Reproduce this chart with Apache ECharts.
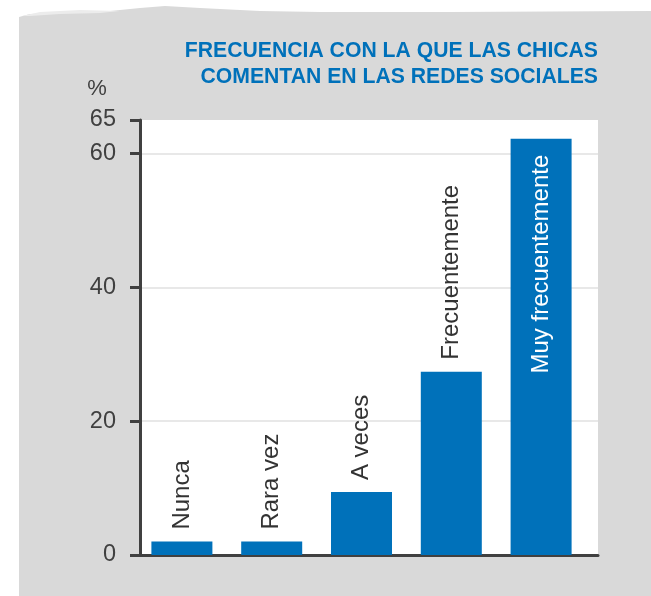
<!DOCTYPE html>
<html>
<head>
<meta charset="utf-8">
<script src="https://cdn.jsdelivr.net/npm/echarts@6/dist/echarts.min.js"></script>
<style>html,body{margin:0;padding:0;background:#fff;}#c{width:651px;height:596px;}</style>
</head>
<body>
<div id="c"></div>
<script>
const categories = ['Nunca', 'Rara vez', 'A veces', 'Frecuentemente', 'Muy frecuentemente'];
const values = [2.0, 2.0, 9.4, 27.4, 62.2];
const yMin = 0, yMax = 65, yInterval = 20;
const titleLines = ['FRECUENCIA CON LA QUE LAS CHICAS', 'COMENTAN EN LAS REDES SOCIALES'];
const unitLabel = '%';

const FONT = '"Liberation Sans", Arial, Helvetica, sans-serif';
const BLUE = '#0071BA';
const DARK = '#404040';

const chart = echarts.init(document.getElementById('c'), null, {renderer: 'canvas'});

const seriesData = values.map((v, i) => {
  const item = {value: v};
  if (i === values.length - 1) {
    item.label = {position: 'insideTop', align: 'right', distance: 16, color: '#ffffff'};
  }
  return item;
});

chart.setOption({
  animation: false,
  backgroundColor: '#ffffff',
  graphic: [
    {
      type: 'polygon', z: -10, silent: true,
      shape: {points: [[19,17],[30,14],[60,13],[100,12],[140,8],[165,6],[200,8],[260,11],[320,12],[450,12],[651,11],[651,596],[19,596]]},
      style: {fill: '#d9d9d9'}
    },
    {
      type: 'polygon', z: -9, silent: true,
      shape: {points: [[22,16],[40,12],[80,10],[120,11],[100,13],[60,14],[30,16]]},
      style: {fill: '#ececec'}
    },
    {
      type: 'text', z: 10, x: 598, y: 38,
      style: {
        text: titleLines.join('\n'), textAlign: 'right', textVerticalAlign: 'top',
        font: 'bold 21.2px ' + FONT, fill: BLUE, lineHeight: 26
      }
    },
    {
      type: 'text', z: 10, x: 97, y: 89,
      style: {text: unitLabel, textAlign: 'center', textVerticalAlign: 'middle', font: '22px ' + FONT, fill: DARK}
    }
  ],
  grid: [
    {left: 140, right: 53, top: 120, bottom: 41, show: true, backgroundColor: '#ffffff', borderWidth: 0},
    {left: 137, right: 65, top: 120, bottom: 41}
  ],
  xAxis: [
    {gridIndex: 0, type: 'value', min: 0, max: 1,
     axisLine: {show: true, lineStyle: {color: DARK, width: 3}},
     axisTick: {show: false}, axisLabel: {show: false}, splitLine: {show: false}},
    {gridIndex: 1, type: 'category', data: categories,
     axisLine: {show: false}, axisTick: {show: false}, axisLabel: {show: false}}
  ],
  yAxis: [
    {gridIndex: 0, type: 'value', min: yMin, max: yMax, interval: yInterval,
     axisLine: {show: true, lineStyle: {color: DARK, width: 3}},
     axisTick: {show: true, inside: false, length: 10, lineStyle: {color: DARK, width: 3}},
     axisLabel: {show: true, margin: 24, fontSize: 23.5, color: DARK, fontFamily: FONT, showMaxLabel: true, padding: [6, 0, 0, 0]},
     splitLine: {show: true, showMaxLine: false, showMinLine: false, lineStyle: {color: '#e8e8e8', width: 2}}},
    {gridIndex: 1, type: 'value', min: yMin, max: yMax,
     axisLine: {show: false}, axisTick: {show: false}, axisLabel: {show: false}, splitLine: {show: false}}
  ],
  series: [{
    type: 'bar', xAxisIndex: 1, yAxisIndex: 1, barWidth: 61,
    itemStyle: {color: BLUE},
    data: seriesData,
    label: {
      show: true, formatter: '{b}', rotate: 90, position: 'top', distance: 12,
      align: 'left', verticalAlign: 'middle', fontSize: 24, color: '#333333', fontFamily: FONT
    }
  }]
});
</script>
</body>
</html>
